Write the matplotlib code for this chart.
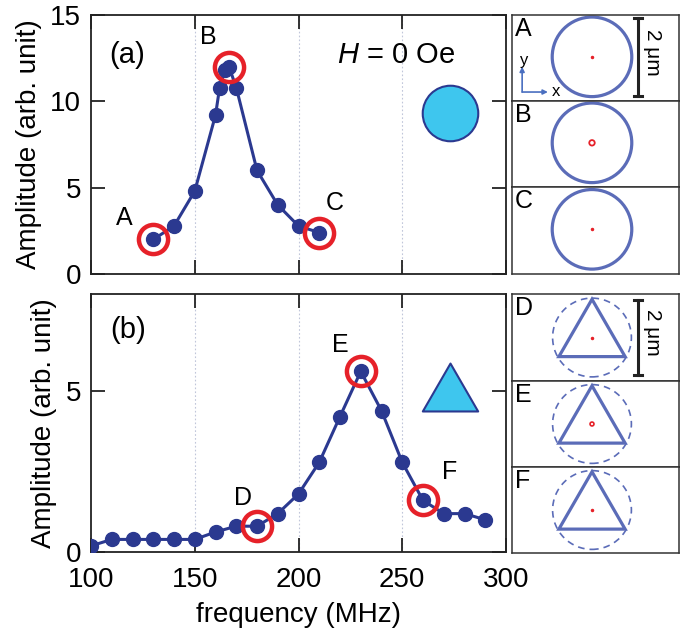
import numpy as np
import matplotlib
matplotlib.use('Agg')
import matplotlib.pyplot as plt
from matplotlib.patches import Circle, Polygon
from matplotlib.path import Path

plt.rcParams['font.family'] = ['Liberation Sans', 'DejaVu Sans']
plt.rcParams['mathtext.fontset'] = 'custom'
plt.rcParams['mathtext.it'] = 'Liberation Sans:italic'
plt.rcParams['mathtext.rm'] = 'Liberation Sans'

# data
freq_a = [130, 140, 150, 160, 162, 164.5, 166.5, 170, 180, 190, 200, 210]
amp_a = [2.0, 2.78, 4.8, 9.2, 10.8, 11.8, 12.0, 10.8, 6.0, 4.0, 2.78, 2.4]
marked_a = [130, 166.5, 210]
names_a = ['A', 'B', 'C']

freq_b = [100, 110, 120, 130, 140, 150, 160, 170, 180, 190,
          200, 210, 220, 230, 240, 250, 260, 270, 280, 290]
amp_b = [0.19, 0.39, 0.39, 0.39, 0.39, 0.39, 0.62, 0.80, 0.80, 1.19,
         1.80, 2.78, 4.2, 5.6, 4.38, 2.78, 1.6, 1.19, 1.19, 1.0]
marked_b = [180, 230, 260]
names_b = ['D', 'E', 'F']

xticks = [100, 150, 200, 250, 300]

W, H = 685, 633
LINE = '#2b3990'
RED = '#e62129'
FILL = '#3ec6ee'
SHAPE = '#5b6cb8'


def px_rect(x0, y0, x1, y1):
    return [x0 / W, 1 - y1 / H, (x1 - x0) / W, (y1 - y0) / H]


fig = plt.figure(figsize=(W / 100, H / 100), dpi=100)
ax_a = fig.add_axes(px_rect(91, 15, 506, 274))
ax_b = fig.add_axes(px_rect(91, 294, 506, 552))


def style_main(ax, ylim, yticks):
    ax.set_xlim(100, 300)
    ax.set_ylim(*ylim)
    ax.set_xticks(xticks)
    ax.set_yticks(yticks)
    for x in [150, 200, 250]:
        ax.axvline(x, color='#c0c6da', lw=0.8, ls=(0, (1.5, 2)), zorder=0)
    ax.tick_params(direction='in', length=10, width=1.3, top=True, right=True,
                   labelsize=20, color='#222222')
    ax.tick_params(axis='y', pad=7)
    ax.tick_params(axis='x', pad=11)
    for s in ax.spines.values():
        s.set_linewidth(1.3)
        s.set_color('#222222')
    ax.set_ylabel('Amplitude (arb. unit)', fontsize=20, labelpad=6)


def plot_curve(ax, f, a, marked, names, label_pos):
    ax.plot(f, a, '-o', color=LINE, lw=2.2, ms=10, zorder=3)
    for m, name in zip(marked, names):
        y = a[f.index(m)]
        ax.plot(m, y, 'o', ms=21, mfc='none', mec=RED, mew=3.2, zorder=4)
        ax.text(*label_pos[name], name, fontsize=18, ha='center', va='center')


style_main(ax_a, (0, 15), [0, 5, 10, 15])
ax_a.tick_params(labelbottom=False)
plot_curve(ax_a, freq_a, amp_a, marked_a, names_a,
           {'A': (116, 3.25), 'B': (156.7, 13.7), 'C': (217.3, 4.1)})
ax_a.text(117.3, 12.7, '(a)', fontsize=21, ha='center', va='center')
ax_a.text(247, 12.7, r'$H$ = 0 Oe', fontsize=21, ha='center', va='center')
ax_a.plot(273, 9.32, 'o', ms=40, mfc=FILL, mec=LINE, mew=1.5)

style_main(ax_b, (0, 8), [0, 5])
plot_curve(ax_b, freq_b, amp_b, marked_b, names_b,
           {'D': (173.1, 1.67), 'E': (220.2, 6.42), 'F': (272.6, 2.48)})
ax_b.text(117.8, 6.88, '(b)', fontsize=21, ha='center', va='center')
tri = Path([(0, 1), (-0.866, -0.5), (0.866, -0.5), (0, 1)],
           [Path.MOVETO, Path.LINETO, Path.LINETO, Path.CLOSEPOLY])
ax_b.plot(273, 4.87, marker=tri, ms=46, mfc=FILL, mec=LINE, mew=1.5, ls='none')
ax_b.set_xlabel('frequency (MHz)', fontsize=20, labelpad=6)

# side boxes (units of um, 39 px per um)
scale = 39.0
box_x0, box_x1 = 512, 679
rows_a = [15, 101, 187, 274]
rows_b = [294, 381, 467, 553]


def side_box(y0, y1, name):
    ax = fig.add_axes(px_rect(box_x0, y0, box_x1, y1))
    w = (box_x1 - box_x0) / scale
    h = (y1 - y0) / scale
    ax.set_xlim(0, w)
    ax.set_ylim(0, h)
    ax.set_xticks([])
    ax.set_yticks([])
    for s in ax.spines.values():
        s.set_linewidth(1.1)
        s.set_color('#333333')
    ax.text(0.08, h - 0.06, name, fontsize=18, ha='left', va='top')
    return ax, w, h


cx = (592 - box_x0) / scale
for i, name in enumerate(names_a):
    ax, w, h = side_box(rows_a[i], rows_a[i + 1], name)
    cy = h / 2 + 0.03
    ax.add_patch(Circle((cx, cy), 1.02, fill=False, ec=SHAPE, lw=2.3))
    if name == 'B':
        ax.add_patch(Circle((cx, cy), 0.07, fill=False, ec=RED, lw=1.3))
    else:
        ax.plot(cx, cy, 'o', ms=1.5, color=RED)
    if name == 'A':
        bx = (638 - box_x0) / scale
        ax.plot([bx, bx], [cy - 1.0, cy + 1.0], color='#222222', lw=2.2)
        for yy in [cy - 1.0, cy + 1.0]:
            ax.plot([bx - 0.1, bx + 0.1], [yy, yy], color='#222222', lw=2.2)
        ax.text(bx + 0.36, cy + 0.12, '2 μm', fontsize=15, rotation=270,
                ha='center', va='center')
        ox, oy = 0.26, 0.23
        ax.annotate('', xy=(ox, oy + 0.65), xytext=(ox, oy),
                    arrowprops=dict(arrowstyle='-|>', color='#4a6fc0', lw=1.2,
                                    mutation_scale=7, shrinkA=0, shrinkB=0))
        ax.annotate('', xy=(ox + 0.66, oy), xytext=(ox, oy),
                    arrowprops=dict(arrowstyle='-|>', color='#4a6fc0', lw=1.2,
                                    mutation_scale=7, shrinkA=0, shrinkB=0))
        ax.text(ox + 0.05, oy + 0.82, 'y', fontsize=12, ha='center', va='center')
        ax.text(ox + 0.87, oy + 0.02, 'x', fontsize=12, ha='center', va='center')

for i, name in enumerate(names_b):
    ax, w, h = side_box(rows_b[i], rows_b[i + 1], name)
    cy = h / 2
    ax.add_patch(Circle((cx, cy), 1.01, fill=False, ec=SHAPE, lw=1.2,
                        ls=(0, (4, 3))))
    r = 0.98
    verts = [(cx + r * np.cos(np.radians(t)), cy + r * np.sin(np.radians(t)))
             for t in [90, 210, 330]]
    ax.add_patch(Polygon(verts, closed=True, fill=False, ec=SHAPE, lw=2.3))
    if name == 'E':
        ax.add_patch(Circle((cx, cy), 0.05, fill=False, ec=RED, lw=1.2))
    else:
        ax.plot(cx, cy, 'o', ms=1.5, color=RED)
    if name == 'D':
        bx = (638 - box_x0) / scale
        ax.plot([bx, bx], [cy - 0.97, cy + 0.97], color='#222222', lw=2.2)
        for yy in [cy - 0.97, cy + 0.97]:
            ax.plot([bx - 0.1, bx + 0.1], [yy, yy], color='#222222', lw=2.2)
        ax.text(bx + 0.36, cy + 0.12, '2 μm', fontsize=15, rotation=270,
                ha='center', va='center')

fig.savefig('out.png', dpi=100)
